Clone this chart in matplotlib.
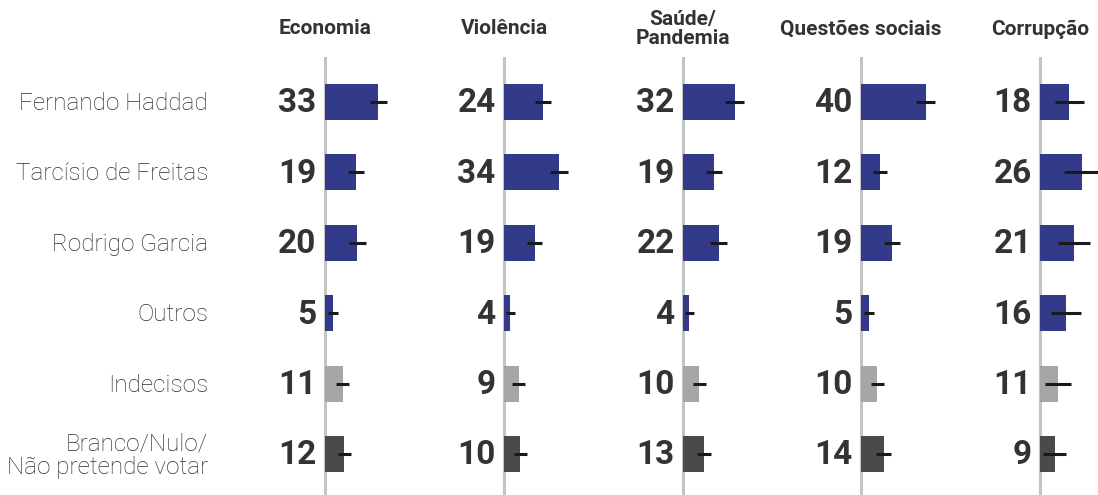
import matplotlib
matplotlib.use('Agg')
import matplotlib.pyplot as plt

topics = ['Economia', 'Violência', 'Saúde/\nPandemia', 'Questões sociais', 'Corrupção']
rows = ['Fernando Haddad', 'Tarcísio de Freitas', 'Rodrigo Garcia', 'Outros',
        'Indecisos', 'Branco/Nulo/\nNão pretende votar']

economia = [33, 19, 20, 5, 11, 12]
violencia = [24, 34, 19, 4, 9, 10]
saude = [32, 19, 22, 4, 10, 13]
questoes = [40, 12, 19, 5, 10, 14]
corrupcao = [18, 26, 21, 16, 11, 9]

err_economia = [5.3, 5, 5, 3, 4, 4]
err_violencia = [5, 5.5, 4.6, 2.5, 4, 4]
err_saude = [5.8, 5, 5.2, 2.5, 4, 4.5]
err_questoes = [5.8, 4.3, 5, 3, 4, 4.5]
err_corrupcao = [9, 11, 10, 9, 8, 7]

values = [economia, violencia, saude, questoes, corrupcao]
errors = [err_economia, err_violencia, err_saude, err_questoes, err_corrupcao]

row_colors = ['#343a8a', '#343a8a', '#343a8a', '#343a8a', '#a6a6a6', '#4a4a4a']

W, H = 1098, 495
fig = plt.figure(figsize=(W / 100, H / 100), dpi=100)
plt.rcParams['font.family'] = ['Roboto', 'DejaVu Sans']

zero_px = [325, 504, 683, 861, 1040]
px_per_unit = 1.62
row_top, row_step = 102, 70.4
ax_w_units = 60
top_px = row_top - row_step / 2
bot_px = row_top + row_step * 5.5

for k, (vals, errs) in enumerate(zip(values, errors)):
    x0 = zero_px[k]
    ax = fig.add_axes([x0 / W, 1 - bot_px / H, ax_w_units * px_per_unit / W,
                       (bot_px - top_px) / H])
    ax.set_xlim(0, ax_w_units)
    ax.set_ylim(5.5, -0.5)
    ax.axis('off')
    ax.patch.set_alpha(0)
    ypos = list(range(len(vals)))
    ax.barh(ypos, vals, height=0.51, color=row_colors, zorder=2)
    for i, (v, e) in enumerate(zip(vals, errs)):
        ax.plot([v - e, v + e], [i, i], color='#1a1a1a', lw=2.2,
                solid_capstyle='butt', zorder=3, clip_on=False)
        ax.annotate(str(v), (0, i), xytext=(-6, -1), textcoords='offset points',
                    ha='right', va='center', fontsize=24, fontweight='bold',
                    color='#333333')
    ax.plot([0, 0], [-0.63, 5.6], color='#c4c4c4', lw=2.2, zorder=1, clip_on=False)
    fig.text(x0 / W, 1 - 29 / H, topics[k], ha='center', va='center',
             fontsize=15, fontweight='bold', color='#333333', linespacing=1.0)

for i, r in enumerate(rows):
    y = row_top + i * row_step + 1.5
    fig.text(208 / W, 1 - y / H, r, ha='right', va='center', fontsize=17.5,
             fontweight='light', color='#2e2e2e', multialignment='right',
             linespacing=1.05)

fig.savefig('out.png', dpi=100)
